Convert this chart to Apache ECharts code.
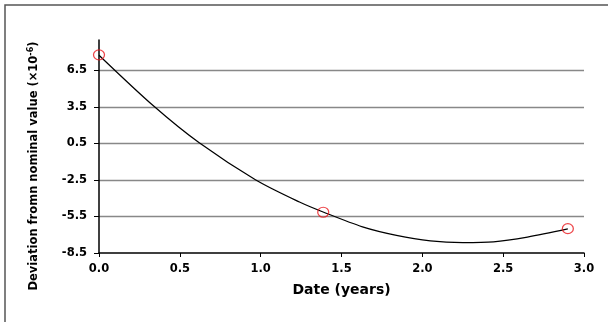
<!DOCTYPE html>
<html>
<head>
<meta charset="utf-8">
<script src="https://cdn.jsdelivr.net/npm/echarts@6/dist/echarts.min.js"></script>
<style>html,body{margin:0;padding:0;background:#fff}#c{width:608px;height:322px}</style>
</head>
<body>
<div id="c"></div>
<script>
// Measured points (red circles)
var pointX = [0.0, 1.387, 2.90];
var pointY = [7.78, -5.15, -6.50];
// Fitted curve
var curveX = [0.0, 0.34, 0.62, 0.97, 1.24, 1.39, 1.63, 1.84, 2.05, 2.25, 2.44, 2.65, 2.9];
var curveY = [7.75, 3.55, 0.55, -2.5, -4.31, -5.15, -6.35, -7.05, -7.5, -7.64, -7.58, -7.19, -6.52];
// Axes
var xTicks = ['0.0', '0.5', '1.0', '1.5', '2.0', '2.5', '3.0'];
var yTicks = ['-8.5', '-5.5', '-2.5', '0.5', '3.5', '6.5'];
var xTitle = 'Date (years)';
var yTitle = 'Deviation fromn nominal value (×10';
var yTitleSup = '-6';

var font = 'DejaVu Sans';
var chart = echarts.init(document.getElementById('c'), null, {renderer: 'canvas'});
chart.setOption({
  animation: false,
  backgroundColor: '#fff',
  grid: {left: 99, right: 24, top: 40, bottom: 69},
  xAxis: {
    type: 'value', min: 0, max: 3, interval: 0.5,
    name: xTitle, nameLocation: 'middle', nameGap: 30,
    nameTextStyle: {fontFamily: font, fontWeight: 'bold', fontSize: 14, color: '#000'},
    axisLine: {onZero: false, lineStyle: {color: '#000', width: 1.5}},
    axisTick: {show: true, length: 4, lineStyle: {color: '#000', width: 1}},
    axisLabel: {fontFamily: font, fontWeight: 'bold', fontSize: 11.5, color: '#000', margin: 10,
      formatter: function (v) { var s = v.toFixed(1); return xTicks.indexOf(s) >= 0 ? s : ''; }},
    splitLine: {show: false}
  },
  yAxis: {
    type: 'value', min: -8.5, max: 9, interval: 3,
    axisLine: {show: true, onZero: false, lineStyle: {color: '#000', width: 1.5}},
    axisTick: {show: true, length: 5, lineStyle: {color: '#000', width: 1}},
    axisLabel: {fontFamily: font, fontWeight: 'bold', fontSize: 11.5, color: '#000', margin: 12,
      showMaxLabel: false,
      formatter: function (v) { var s = v.toFixed(1); return yTicks.indexOf(s) >= 0 ? s : ''; }},
    splitLine: {show: true, showMaxLine: false, showMinLine: false, lineStyle: {color: '#888', width: 1.3}}
  },
  graphic: [
    {type: 'rect', shape: {x: 5, y: 5, width: 650, height: 350}, style: {fill: 'none', stroke: '#555', lineWidth: 1.5}, silent: true},
    {type: 'text', x: 34, y: 166, rotation: Math.PI / 2,
      style: {
        text: '{a|' + yTitle + '}{s|' + yTitleSup + '}{a|)}',
        align: 'center', verticalAlign: 'middle',
        rich: {
          a: {fontFamily: font, fontWeight: 'bold', fontSize: 11.5, fill: '#000', lineHeight: 14},
          s: {fontFamily: font, fontWeight: 'bold', fontSize: 8, fill: '#000', verticalAlign: 'top', lineHeight: 14, padding: [0, 0, 6, 0]}
        }
      }}
  ],
  series: [
    {type: 'line', data: curveX.map(function (x, i) { return [x, curveY[i]]; }),
      smooth: 0.3, showSymbol: false, lineStyle: {color: '#000', width: 1.25}, z: 2},
    {type: 'scatter', data: pointX.map(function (x, i) { return [x, pointY[i]]; }),
      symbol: 'circle', symbolSize: [11, 10],
      itemStyle: {color: 'rgba(0,0,0,0)', borderColor: '#e8161b', borderWidth: 1.2}, z: 3}
  ]
});
</script>
</body>
</html>
